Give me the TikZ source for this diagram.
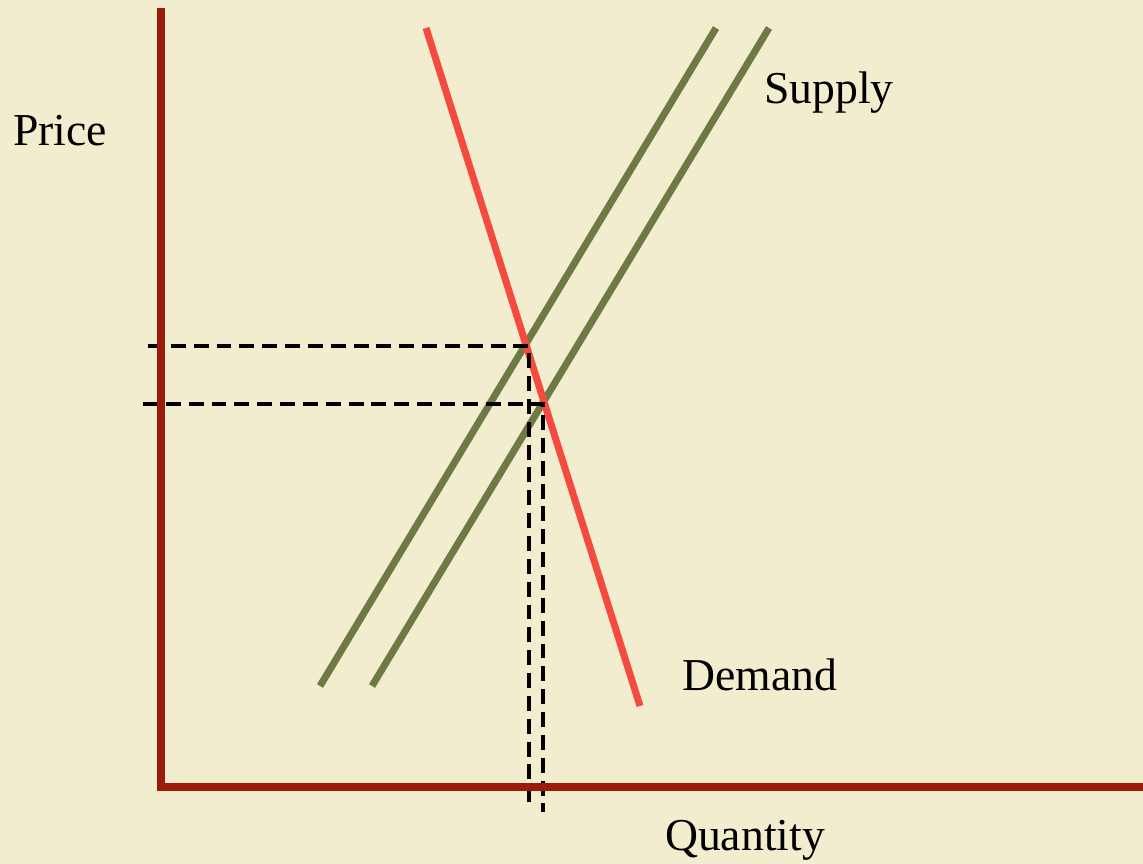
\documentclass[tikz,border=0pt]{standalone}
\usepackage{fontspec}
\setmainfont{Liberation Serif}
\usepackage{tikz}
\usetikzlibrary{calc,positioning}
\definecolor{parch}{RGB}{243,237,208}
\definecolor{axisred}{RGB}{155,27,11}
\definecolor{demandred}{RGB}{244,74,63}
\definecolor{supplygreen}{RGB}{110,122,69}
\tikzset{
  axisline/.style={draw=axisred, line width=4.5pt},
  demandline/.style={draw=demandred, line width=4pt},
  supplyline/.style={draw=supplygreen, line width=4pt},
  guide/.style={draw=black, line width=2.4pt, dash pattern=on 8.5pt off 4.5pt},
  lbl/.style={font=\fontsize{26}{30}\selectfont, inner sep=0pt}
}
\begin{document}
\begin{tikzpicture}[x=0.02cm,y=-0.02cm]
  % page and background
  \fill[parch] (0,0) rectangle (1143,864);
  \useasboundingbox (0,0) rectangle (1143,864);

  % curves
  \coordinate (d1) at (426,28);
  \coordinate (d2) at (640,706);
  \coordinate (s1a) at (320,686);
  \coordinate (s1b) at (716,28);
  \coordinate (s2a) at (372,686);
  \coordinate (s2b) at (769,28);
  \draw[supplyline] (s1a) -- (s1b);
  \draw[supplyline] (s2a) -- (s2b);
  \draw[demandline] (d1) -- (d2);

  % equilibrium points and guide ends
  \coordinate (e1) at (529,346);
  \coordinate (e2) at (543,404);
  \coordinate (p1) at (148,346);
  \coordinate (p2) at (143,404);
  \coordinate (q1) at (529,810);
  \coordinate (q2) at (543,812);
  \draw[guide] (p1) -- (e1) -- (q1);
  \draw[guide] (p2) -- (e2) -- (q2);

  % axes
  \coordinate (top) at (161,8);
  \coordinate (origin) at (161,787);
  \coordinate (right) at (1143,787);
  \draw[axisline] (top) -- (origin) -- (right);

  % labels
  \node[lbl] (price) at (60,131) {Price};
  \node[lbl] (supply) at (829,93) {Supply};
  \node[lbl] (demand) at (760,675) {Demand};
  \node[lbl] (quantity) at (745,840) {Quantity};
\end{tikzpicture}
\end{document}
